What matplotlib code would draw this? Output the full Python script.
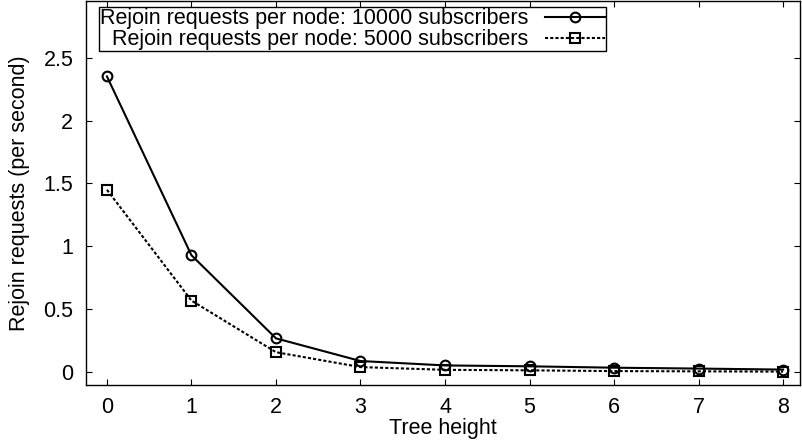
import matplotlib
matplotlib.use('Agg')
import matplotlib.pyplot as plt

# tree height vs rejoin requests per node
tree_height = [0, 1, 2, 3, 4, 5, 6, 7, 8]
rejoin_10000 = [2.35, 0.93, 0.27, 0.09, 0.055, 0.048, 0.037, 0.03, 0.022]
rejoin_5000 = [1.45, 0.57, 0.16, 0.042, 0.02, 0.016, 0.01, 0.008, 0.006]

label_10000 = 'Rejoin requests per node: 10000 subscribers'
label_5000 = 'Rejoin requests per node: 5000 subscribers'

plt.rcParams['font.family'] = ['Liberation Sans', 'DejaVu Sans']
plt.rcParams['font.size'] = 15.5

fig = plt.figure(figsize=(8.02, 4.44), dpi=100)
ax = fig.add_axes([0.107, 0.133, 0.8905, 0.865])

ax.plot(tree_height, rejoin_10000, color='black', lw=1.5, marker='o',
        markersize=7, markerfacecolor='none', markeredgewidth=1.5,
        label=label_10000)
ax.plot(tree_height, rejoin_5000, color='black', lw=1.5, linestyle=(0, (1.5, 1)),
        marker='s', markersize=7.5, markerfacecolor='none', markeredgewidth=1.5,
        label=label_5000)

ax.set_xlim(-0.25, 8.2)
ax.set_ylim(-0.1, 2.95)
ax.set_xticks(tree_height)
ax.set_yticks([0, 0.5, 1, 1.5, 2, 2.5])
ax.set_yticklabels(['0', '0.5', '1', '1.5', '2', '2.5'])

ax.tick_params(direction='in', length=4.5, width=0.8, top=True, right=True)
ax.tick_params(axis='x', pad=9)
ax.tick_params(axis='y', pad=9)
for s in ax.spines.values():
    s.set_linewidth(1.0)

ax.set_xlabel('Tree height')
ax.set_ylabel('Rejoin requests (per second)')
ax.xaxis.set_label_coords(0.5, -0.085)
ax.yaxis.set_label_coords(-0.078, 0.5)

leg = ax.legend(loc='upper left', bbox_to_anchor=(0.0186, 0.984), borderaxespad=0,
                markerfirst=False, fancybox=False, edgecolor='black',
                handlelength=2.8, handletextpad=0.75, borderpad=0.05,
                labelspacing=0.0, framealpha=1)
leg.get_frame().set_linewidth(1.0)

plt.savefig('out.png', dpi=100)
